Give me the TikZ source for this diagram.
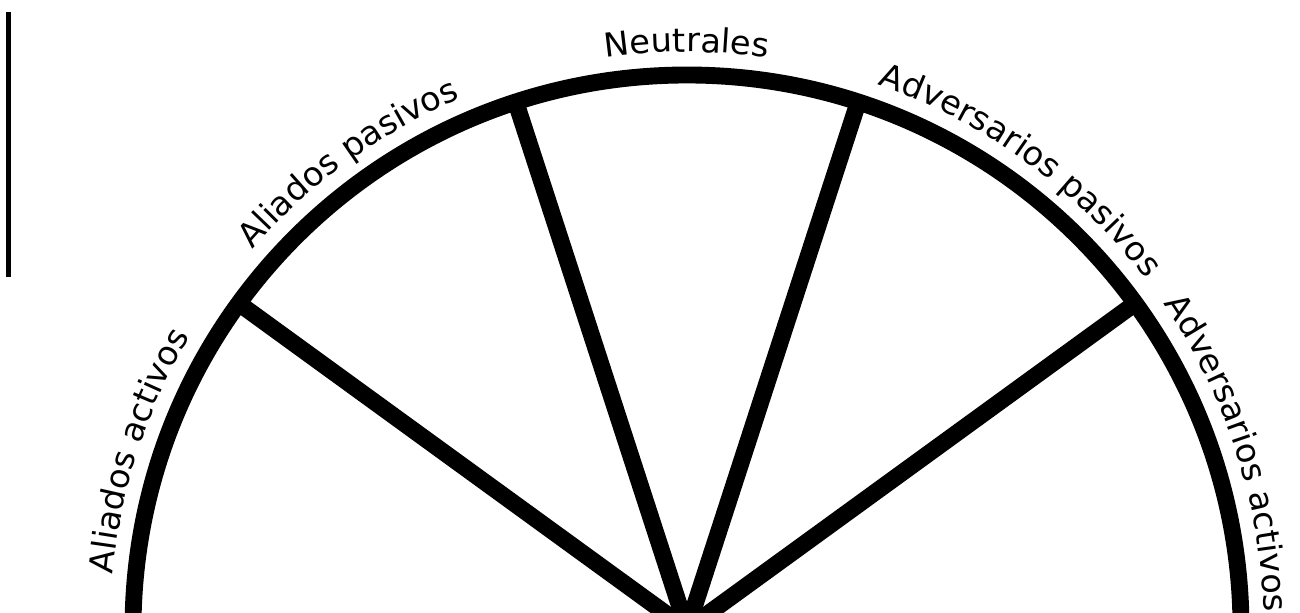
\documentclass[tikz,border=0pt]{standalone}
\usepackage{fontspec}
\newfontfamily\sectorfont[FakeStretch=1.02]{DejaVu Sans}
\usetikzlibrary{decorations.text}

\begin{document}
\begin{tikzpicture}[
    rim/.style={line width=4.8pt},
    spoke/.style={line width=4.8pt},
    bar/.style={line width=1.15pt},
    sector label/.style={
        decorate,
        decoration={
            text along path,
            text align=center,
            text={|\sectorfont\fontsize{9.4}{11}\selectfont|#1}
        }
    }
]
    \useasboundingbox (0,0) rectangle (13,6.12);
    \clip (0,0) rectangle (13,6.12);

    \coordinate (centre) at (6.87,-0.17);
    \coordinate (bar-top) at (0.085,6.00);
    \coordinate (bar-bottom) at (0.085,3.35);

    \path (centre) ++(36:5.54) coordinate (rim-adv);
    \path (centre) ++(72:5.54) coordinate (rim-neu-right);
    \path (centre) ++(108:5.54) coordinate (rim-neu-left);
    \path (centre) ++(144:5.54) coordinate (rim-ali);

    \draw[bar] (bar-top) -- (bar-bottom);
    \draw[rim] (centre) ++(0:5.54) arc[start angle=0, end angle=180, radius=5.54];

    \draw[spoke] (centre) -- (rim-adv);
    \draw[spoke] (centre) -- (rim-neu-right);
    \draw[spoke] (centre) -- (rim-neu-left);
    \draw[spoke] (centre) -- (rim-ali);

    \path[sector label=Aliados activos] (centre) ++(180:5.77) arc[start angle=180, end angle=144, radius=5.77];
    \path[sector label=Aliados pasivos] (centre) ++(144:5.77) arc[start angle=144, end angle=108, radius=5.77];
    \path[sector label=Neutrales] (centre) ++(108:5.77) arc[start angle=108, end angle=72, radius=5.77];
    \path[sector label=Adversarios pasivos] (centre) ++(72:5.77) arc[start angle=72, end angle=36, radius=5.77];
    \path[sector label=Adversarios activos] (centre) ++(36:5.77) arc[start angle=36, end angle=0, radius=5.77];
\end{tikzpicture}
\end{document}
